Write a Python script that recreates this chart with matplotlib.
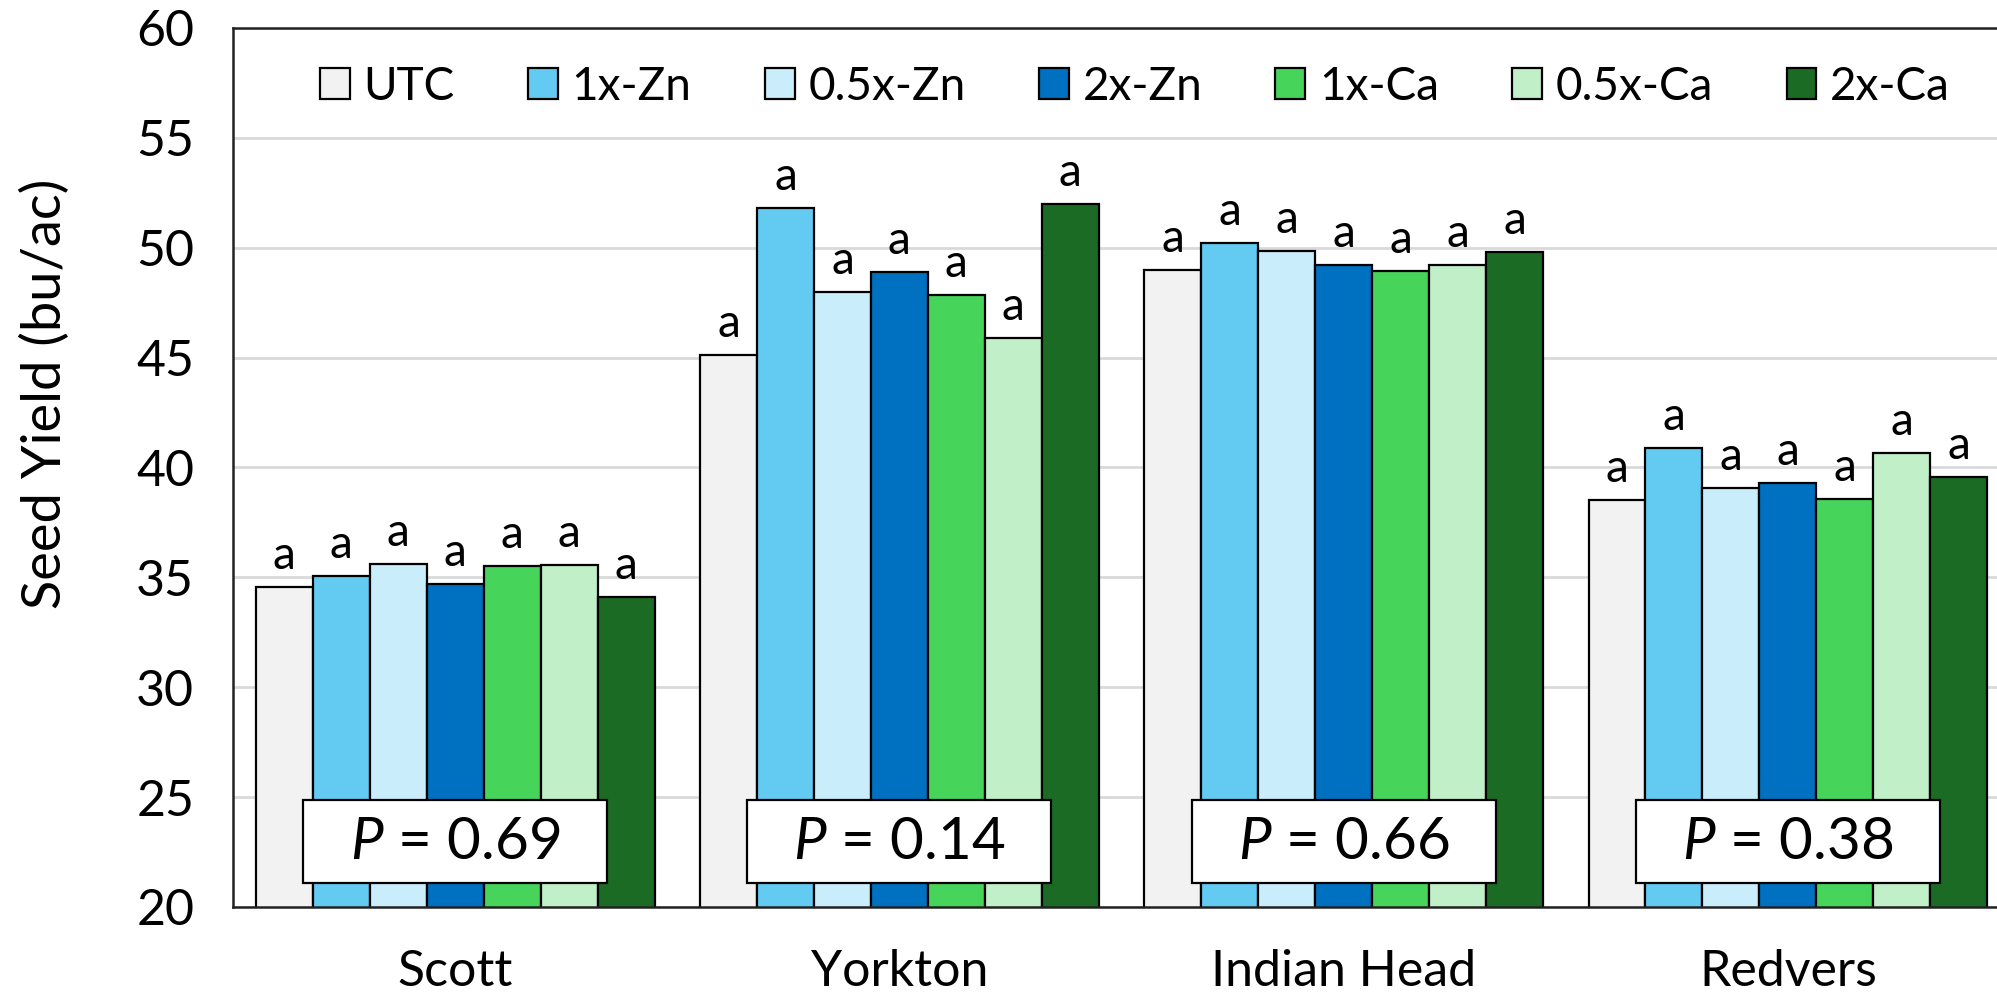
import numpy as np
import matplotlib
matplotlib.use("Agg")
import matplotlib.pyplot as plt
from matplotlib.patches import Rectangle

plt.rcParams["font.family"] = ["Lato", "DejaVu Sans"]
plt.rcParams["mathtext.fontset"] = "custom"
plt.rcParams["mathtext.rm"] = "Lato"
plt.rcParams["mathtext.it"] = "Lato:italic"

sites = ["Scott", "Yorkton", "Indian Head", "Redvers"]
treatments = ["UTC", "1x-Zn", "0.5x-Zn", "2x-Zn", "1x-Ca", "0.5x-Ca", "2x-Ca"]
colors = ["#f2f2f2", "#63caf2", "#caedfb", "#0070c0", "#47d45a", "#c1f0c8", "#1b6b25"]

utc = [34.55, 45.1, 49.0, 38.5]
zn_1x = [35.05, 51.8, 50.2, 40.9]
zn_05x = [35.6, 48.0, 49.85, 39.05]
zn_2x = [34.7, 48.9, 49.2, 39.3]
ca_1x = [35.5, 47.85, 48.95, 38.55]
ca_05x = [35.55, 45.9, 49.2, 40.65]
ca_2x = [34.1, 52.0, 49.8, 39.55]
series = [utc, zn_1x, zn_05x, zn_2x, ca_1x, ca_05x, ca_2x]

letters = ["a"] * 7
p_values = ["0.69", "0.14", "0.66", "0.38"]

fig = plt.figure(figsize=(19.97, 9.96), dpi=100)
ax = fig.add_axes([0.1167, 0.0894, 0.8898, 0.8825])

x = np.arange(len(sites))
w = 1 / (len(treatments) + 0.8)
for j, (name, vals) in enumerate(zip(treatments, series)):
    pos = x + (j - 3) * w
    ax.bar(pos, vals, width=w, color=colors[j], edgecolor="black",
           linewidth=1.6, label=name, zorder=2)
    for xb, v in zip(pos, vals):
        ax.annotate(letters[j], (xb, v), xytext=(0, 13), textcoords="offset points",
                    ha="center", va="baseline", fontsize=33)

# P-value boxes
for i, p in enumerate(p_values):
    ax.add_patch(Rectangle((i - 0.342, 21.1), 0.684, 3.77, facecolor="white",
                           edgecolor="black", linewidth=1.6, zorder=3))
    ax.text(i, 22.95, r"$\it{P}$ = " + p, ha="center", va="center",
            fontsize=42, zorder=4)

ax.set_ylim(20, 60)
ax.set_xlim(-0.5, 3.5)
ax.set_yticks(range(20, 61, 5))
ax.set_xticks(x)
ax.set_xticklabels(sites)
ax.tick_params(axis="both", length=0, labelsize=36)
ax.tick_params(axis="x", pad=30)
ax.tick_params(axis="y", pad=28)
ax.yaxis.grid(True, color="#d9d9d9", linewidth=2, zorder=0)
ax.set_axisbelow(True)
for s in ["left", "bottom", "top", "right"]:
    ax.spines[s].set_color("#222222")
    ax.spines[s].set_linewidth(1.8)

fig.text(0.0225, 0.605, "Seed Yield (bu/ac)", rotation=90, ha="center",
         va="center", fontsize=39)

ax.legend(loc="center", bbox_to_anchor=(0.5076, 0.933), ncol=7, frameon=False,
          fontsize=33, handlelength=0.65, handleheight=0.65, handletextpad=0.3,
          columnspacing=1.6, borderaxespad=0)

fig.savefig("out.png", dpi=100)
